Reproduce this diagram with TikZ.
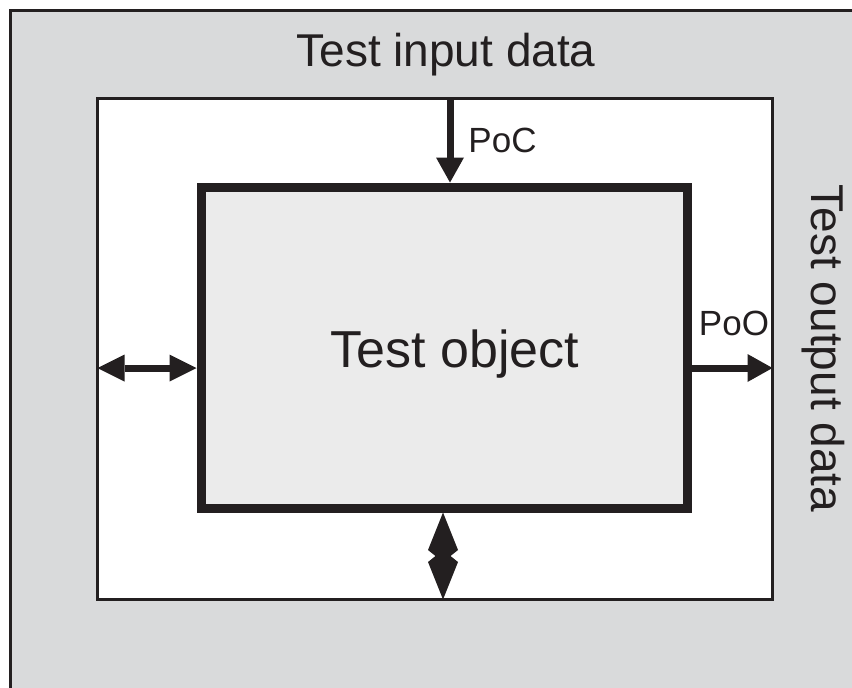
\documentclass[tikz,border=0pt]{standalone}
\usepackage{fontspec}
\setmainfont{Liberation Sans}
\usetikzlibrary{arrows.meta}
\definecolor{ink}{HTML}{231F20}
\definecolor{panel}{HTML}{D9DADB}
\definecolor{objfill}{HTML}{EBEBEB}
\begin{document}
\begin{tikzpicture}[x=1pt,y=-1pt,
  frame/.style={draw=ink, line width=3pt, inner sep=0pt, outer sep=0pt},
  objbox/.style={draw=ink, fill=objfill, line width=9pt, inner sep=0pt, outer sep=0pt},
  flow/.style={draw=ink, line width=7pt},
  headA/.style={-{Triangle[length=25pt,width=28pt,line width=0pt]}},
  headB/.style={{Triangle[length=27pt,width=27pt,line width=0pt]}-{Triangle[length=27pt,width=27pt,line width=0pt]}},
  headC/.style={{Kite[length=49.5pt,width=30pt,inset=12pt,line width=0pt]}-{Kite[length=49.5pt,width=30pt,inset=12pt,line width=0pt]}},
  bigtxt/.style={text=ink, inner sep=0pt, font=\fontsize{46}{55}\selectfont},
  objtxt/.style={text=ink, inner sep=0pt, font=\fontsize{52}{62}\selectfont},
  smalltxt/.style={text=ink, inner sep=0pt, font=\fontsize{35}{42}\selectfont}
]
\useasboundingbox (0,0) rectangle (852,688);
\clip (0,0) rectangle (852,688);

% test environment (grey panel), inner frame and the test object
\node[frame, fill=panel, minimum width=859.5pt, minimum height=679.5pt] (env) at (440.25,350.25) {};
\node[frame, fill=white, minimum width=675pt, minimum height=501pt] (inner) at (435,349) {};
\node[objbox, minimum width=486pt, minimum height=321pt] (obj) at (444,347.5) {};

% labels
\node[bigtxt, anchor=base] (inlbl) at (446,66.7) {Test input data};
\node[objtxt, anchor=base] (objlbl) at (455,367.3) {Test object};
\node[bigtxt, anchor=base, rotate=-90] (outlbl) at (811,348.5) {Test output data};
\node[smalltxt, anchor=base] (poc) at (502.5,152.7) {PoC};
\node[smalltxt, anchor=base] (poo) at (734,335) {PoO};

% interfaces
\coordinate (midrow) at (0,368);
\draw[flow, headA, shorten >=4.5pt] ([xshift=6pt]obj.north |- inner.north) -- ([xshift=6pt]obj.north);
\draw[flow, headB, shorten >=4.5pt] (inner.west |- midrow) -- (obj.west |- midrow);
\draw[flow, headA] (obj.east |- midrow) -- (inner.east |- midrow);
\draw[flow, line width=6pt, headC, shorten <=4.5pt] ([xshift=-1pt]obj.south) -- ([xshift=-1pt]obj.south |- inner.south);
\end{tikzpicture}
\end{document}
